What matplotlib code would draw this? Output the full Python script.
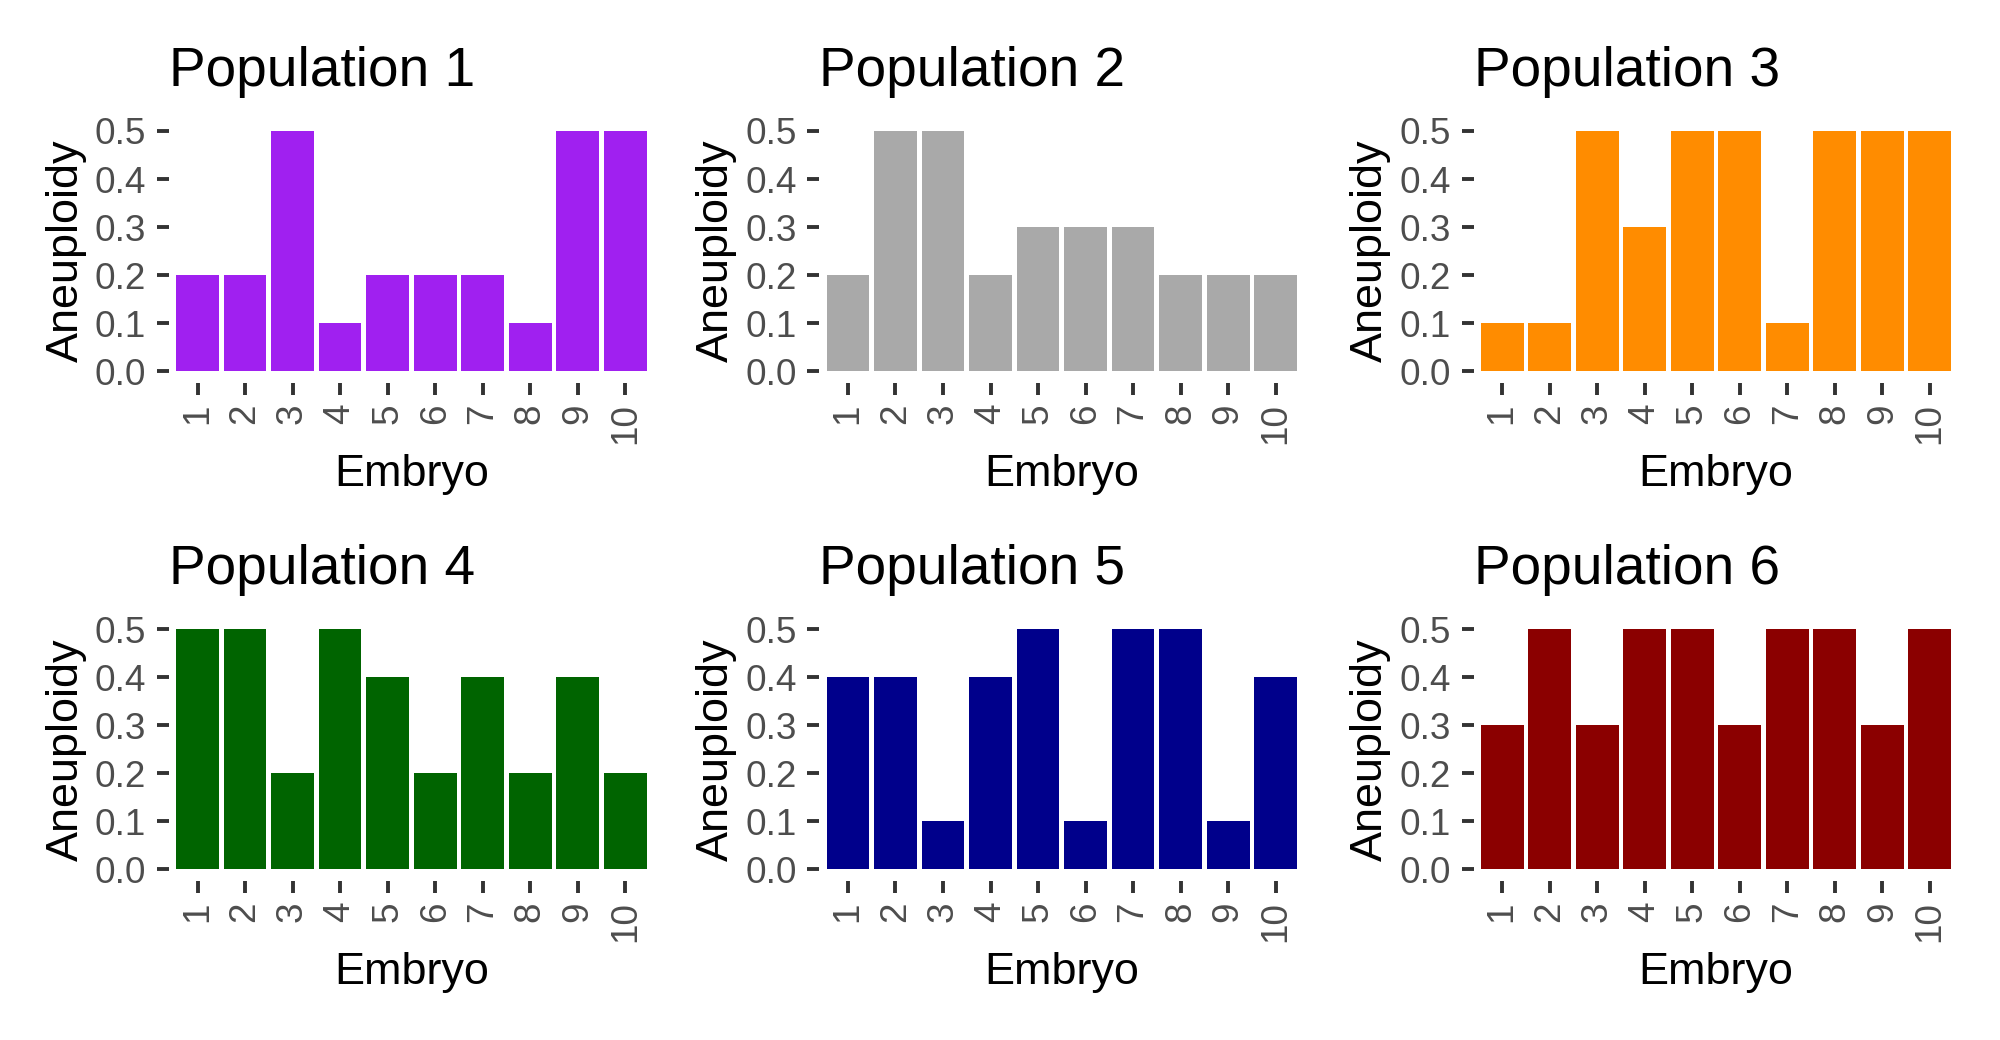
import matplotlib
matplotlib.use("Agg")
import matplotlib.pyplot as plt

plt.rcParams['font.family'] = ['Liberation Sans', 'DejaVu Sans']

embryos = [1, 2, 3, 4, 5, 6, 7, 8, 9, 10]
y_ticks = [0.0, 0.1, 0.2, 0.3, 0.4, 0.5]

pop1 = [0.2, 0.2, 0.5, 0.1, 0.2, 0.2, 0.2, 0.1, 0.5, 0.5]
pop2 = [0.2, 0.5, 0.5, 0.2, 0.3, 0.3, 0.3, 0.2, 0.2, 0.2]
pop3 = [0.1, 0.1, 0.5, 0.3, 0.5, 0.5, 0.1, 0.5, 0.5, 0.5]
pop4 = [0.5, 0.5, 0.2, 0.5, 0.4, 0.2, 0.4, 0.2, 0.4, 0.2]
pop5 = [0.4, 0.4, 0.1, 0.4, 0.5, 0.1, 0.5, 0.5, 0.1, 0.4]
pop6 = [0.3, 0.5, 0.3, 0.5, 0.5, 0.3, 0.5, 0.5, 0.3, 0.5]

titles = ['Population 1', 'Population 2', 'Population 3',
          'Population 4', 'Population 5', 'Population 6']
colors = ['#A020F0', '#A9A9A9', '#FF8C00', '#006400', '#00008B', '#8B0000']
series = [pop1, pop2, pop3, pop4, pop5, pop6]

fig = plt.figure(figsize=(10, 5.2), dpi=200)

col_left = [0.0845, 0.4097, 0.7368]
col_width = 0.2424
row_bottom = [0.6315, 0.1525]
row_height = 0.2541

for i, (vals, title, color) in enumerate(zip(series, titles, colors)):
    r, c = divmod(i, 3)
    ax = fig.add_axes([col_left[c], row_bottom[r], col_width, row_height])
    ax.bar(embryos, vals, width=0.9, color=color, edgecolor='none')

    ax.set_xlim(0.4, 10.6)
    ax.set_ylim(-0.025, 0.525)
    ax.set_xticks(embryos)
    ax.set_xticklabels([str(e) for e in embryos], rotation=90, va='top', ha='center')
    ax.set_yticks(y_ticks)
    ax.set_yticklabels(['%.1f' % t for t in y_ticks])

    for s in ax.spines.values():
        s.set_visible(False)

    ax.tick_params(axis='both', length=4.2, width=1.4, color='#333333',
                   labelcolor='#4D4D4D', labelsize=13.3)
    ax.tick_params(axis='y', pad=4)
    ax.tick_params(axis='x', pad=3)

    ax.set_title(title, loc='left', fontsize=19.8, pad=12, color='black')
    ax.set_xlabel('Embryo', fontsize=16.2)
    ax.xaxis.label.set_va('baseline')
    ax.xaxis.set_label_coords(0.5, -0.39)
    ax.set_ylabel('Aneuploidy', fontsize=16.2)
    ax.yaxis.label.set_va('center')
    ax.yaxis.set_label_coords(-0.212, 0.5)

fig.savefig('out.png', dpi=200, facecolor='white')
